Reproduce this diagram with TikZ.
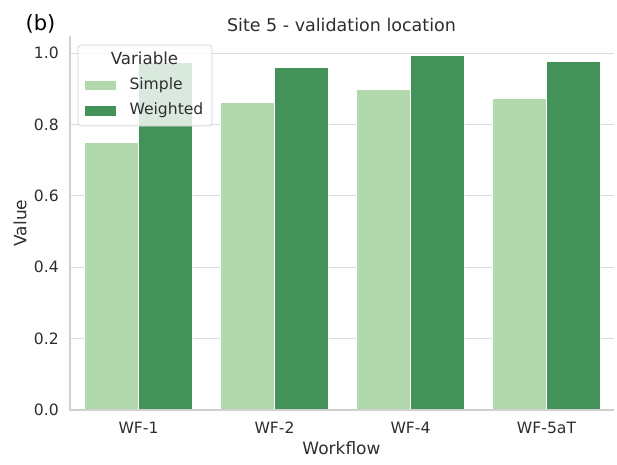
\documentclass[tikz,border=0pt]{standalone}
\usepackage{fontspec}
\setmainfont{DejaVu Sans}
\usetikzlibrary{positioning}
\definecolor{txtgray}{HTML}{2E2E2E}
\definecolor{gridgray}{HTML}{DDDDDD}
\definecolor{spinegray}{HTML}{D0D0D0}
\definecolor{simplegreen}{HTML}{B2D8AE}
\definecolor{weightgreen}{HTML}{43925A}
\tikzset{
    every node/.style={
        text=txtgray,
        inner sep=0pt},
    ticklabel/.style={
        font=\fontsize{15.6}{18}\selectfont},
    axislabel/.style={
        font=\fontsize{17}{20}\selectfont},
    gridline/.style={
        draw=gridgray,
        line width=1pt},
    spine/.style={
        draw=spinegray,
        line width=1.1pt},
    simplebar/.style={
        fill=simplegreen,
        draw=white,
        line width=0.8pt},
    weightbar/.style={
        fill=weightgreen,
        draw=white,
        line width=0.8pt}}

\begin{document}
\begin{tikzpicture}[x=1pt,y=-1pt]
        \useasboundingbox (0,0) rectangle (617,464);

        % grid and y ticks
        \foreach \v [count=\i from 0] in {0.0,0.2,0.4,0.6,0.8,1.0} {
            \draw[gridline] (70,410-357*\v) -- (614,410-357*\v);
            \node[ticklabel,anchor=east] (yt\i) at (59,410-357*\v) {\v};
        }

        % bars
        \foreach \name/\s/\w [count=\i from 0] in {WF-1/0.749/0.974,WF-2/0.862/0.960,WF-4/0.898/0.994,WF-5aT/0.872/0.977} {
            \filldraw[simplebar] (138.5+136*\i-54,410) rectangle (138.5+136*\i,410-357*\s);
            \filldraw[weightbar] (138.5+136*\i,410) rectangle (138.5+136*\i+54,410-357*\w);
            \node[ticklabel,anchor=base] (xt\i) at (138.5+136*\i,433) {\name};
        }

        % axes
        \draw[spine] (70,36) -- (70,410) -- (614,410);

        % labels
        \node[axislabel,anchor=base] (xlabel) at (341.5,454) {Workflow};
        \node[axislabel,rotate=90] (ylabel) at (20,223) {Value};
        \node[axislabel,anchor=base,font=\fontsize{17.5}{20}\selectfont] (title) at (341.5,31) {Site 5 - validation location};
        \node[font=\fontsize{21}{24}\selectfont,anchor=base,text=black] (panel) at (40.5,30) {(b)};

        % legend
        \filldraw[draw=spinegray,fill=white,fill opacity=0.8,rounded corners=3pt,line width=0.8pt] (78,45) rectangle (212,126);
        \node[axislabel,font=\fontsize{16.6}{20}\selectfont] (legtitle) at (144.5,58) {Variable};
        \fill[simplegreen] (85,80.5) rectangle (116,90);
        \fill[weightgreen] (85,106) rectangle (116,115.5);
        \node[ticklabel,anchor=west] (legsimple) at (129.3,85.5) {Simple};
        \node[ticklabel,anchor=west] (legweight) at (129.3,110.5) {Weighted};
    \end{tikzpicture}
\end{document}
